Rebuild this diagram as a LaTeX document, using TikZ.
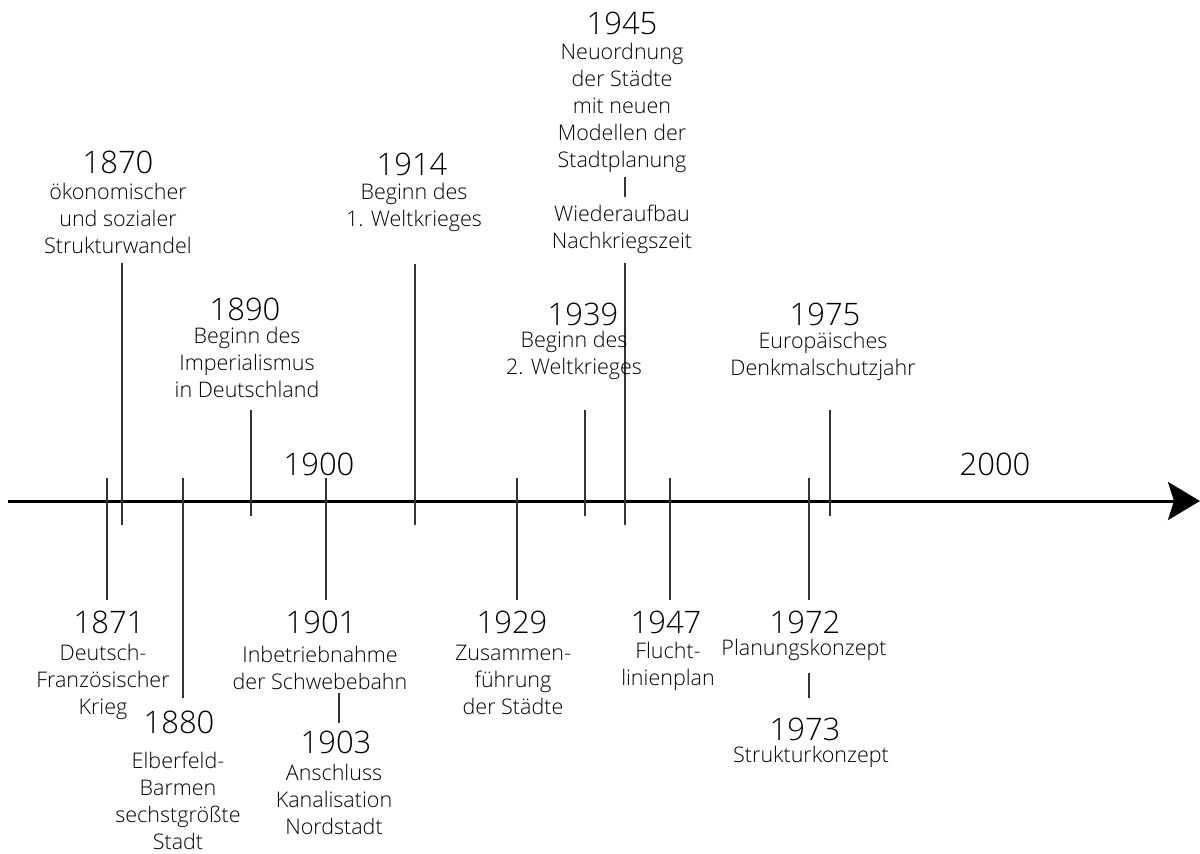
\documentclass[tikz,border=0pt]{standalone}
\usepackage{fontspec}
\setmainfont{Open Sans}[UprightFont=* Light]
\usetikzlibrary{arrows.meta}
\begin{document}
\begin{tikzpicture}[x=1pt,y=-1pt,
  yr/.style={font=\fontsize{31}{33}\selectfont, inner sep=0pt, anchor=base, text=black},
  lbl/.style={font=\fontsize{21.5}{27}\selectfont, align=center, inner sep=0pt, anchor=base, text=black},
  tickline/.style={draw=black!80, line width=1.2pt},
  axisline/.style={line width=3pt, -{Stealth[length=32pt,width=38pt,inset=6pt]}}]
\useasboundingbox (0,0) rectangle (1200,854);
% axis
\coordinate (a0) at (8,501);
\coordinate (a1) at (1200,501);
\draw[axisline] (a0) -- (a1);
% tick coordinates
\coordinate (t1870a) at (122,263); \coordinate (t1870b) at (122,525);
\coordinate (t1890a) at (251,410); \coordinate (t1890b) at (251,516);
\coordinate (t1914a) at (415,264); \coordinate (t1914b) at (415,525);
\coordinate (t1945s) at (625,177); \coordinate (t1945e) at (625,197);
\coordinate (t1945a) at (625,263); \coordinate (t1945b) at (625,525);
\coordinate (t1939a) at (585,410); \coordinate (t1939b) at (585,516);
\coordinate (t1975a) at (830,410); \coordinate (t1975b) at (830,516);
\coordinate (t1900a) at (326,478); \coordinate (t1900b) at (326,600);
\coordinate (t1871a) at (107,478); \coordinate (t1871b) at (107,600);
\coordinate (t1880a) at (183,478); \coordinate (t1880b) at (183,698);
\coordinate (t1903a) at (339,693); \coordinate (t1903b) at (339,723);
\coordinate (t1929a) at (517,478); \coordinate (t1929b) at (517,600);
\coordinate (t1947a) at (670,478); \coordinate (t1947b) at (670,600);
\coordinate (t1972a) at (809,478); \coordinate (t1972b) at (809,600);
\coordinate (t1973a) at (809,673); \coordinate (t1973b) at (809,698);
\foreach \n in {1870,1890,1914,1945,1939,1975,1900,1871,1880,1903,1929,1947,1972,1973}
  {\draw[tickline] (t\n a) -- (t\n b);}
\draw[tickline] (t1945s) -- (t1945e);
% upper labels (label anchor = baseline of last line)
\node[yr] (y1870) at (118,173) {1870};
\node[lbl] (l1870) at (118,253) {ökonomischer\\und sozialer\\Strukturwandel};
\node[yr] (y1890) at (245,320) {1890};
\node[lbl] (l1890) at (247,397) {Beginn des\\Imperialismus\\in Deutschland};
\node[yr] (y1914) at (412,175) {1914};
\node[lbl] (l1914) at (414,226) {Beginn des\\1. Weltkrieges};
\node[yr] (y1945) at (622,34) {1945};
\node[lbl] (l1945) at (622,167) {Neuordnung\\der Städte\\mit neuen\\Modellen der\\Stadtplanung};
\node[lbl] (l1945b) at (622,248) {Wiederaufbau\\Nachkriegszeit};
\node[yr] (y1939) at (583,325) {1939};
\node[lbl] (l1939) at (574,374) {Beginn des\\2. Weltkrieges};
\node[yr] (y1975) at (825,325) {1975};
\node[lbl] (l1975) at (823,375) {Europäisches\\Denkmalschutzjahr};
\node[yr] (y2000) at (995,475) {2000};
\node[yr] (y1900) at (319,475) {1900};
% lower labels
\node[yr] (y1871) at (109,633) {1871};
\node[lbl] (l1871) at (103,714) {Deutsch-\\Französischer\\Krieg};
\node[yr] (y1880) at (179,733) {1880};
\node[lbl] (l1880) at (178,849) {Elberfeld-\\Barmen\\sechstgrößte\\Stadt};
\node[yr] (y1901) at (321,633) {1901};
\node[lbl] (l1901) at (320,689) {Inbetriebnahme\\der Schwebebahn};
\node[yr] (y1903) at (336,753) {1903};
\node[lbl] (l1903) at (334,834) {Anschluss\\Kanalisation\\Nordstadt};
\node[yr] (y1929) at (512,633) {1929};
\node[lbl] (l1929) at (513,714) {Zusammen-\\führung\\der Städte};
\node[yr] (y1947) at (666,633) {1947};
\node[lbl] (l1947) at (668,685) {Flucht-\\linienplan};
\node[yr] (y1972) at (805,633) {1972};
\node[lbl] (l1972) at (804,655) {Planungskonzept};
\node[yr] (y1973) at (805,740) {1973};
\node[lbl] (l1973) at (811,762) {Strukturkonzept};
\end{tikzpicture}
\end{document}
